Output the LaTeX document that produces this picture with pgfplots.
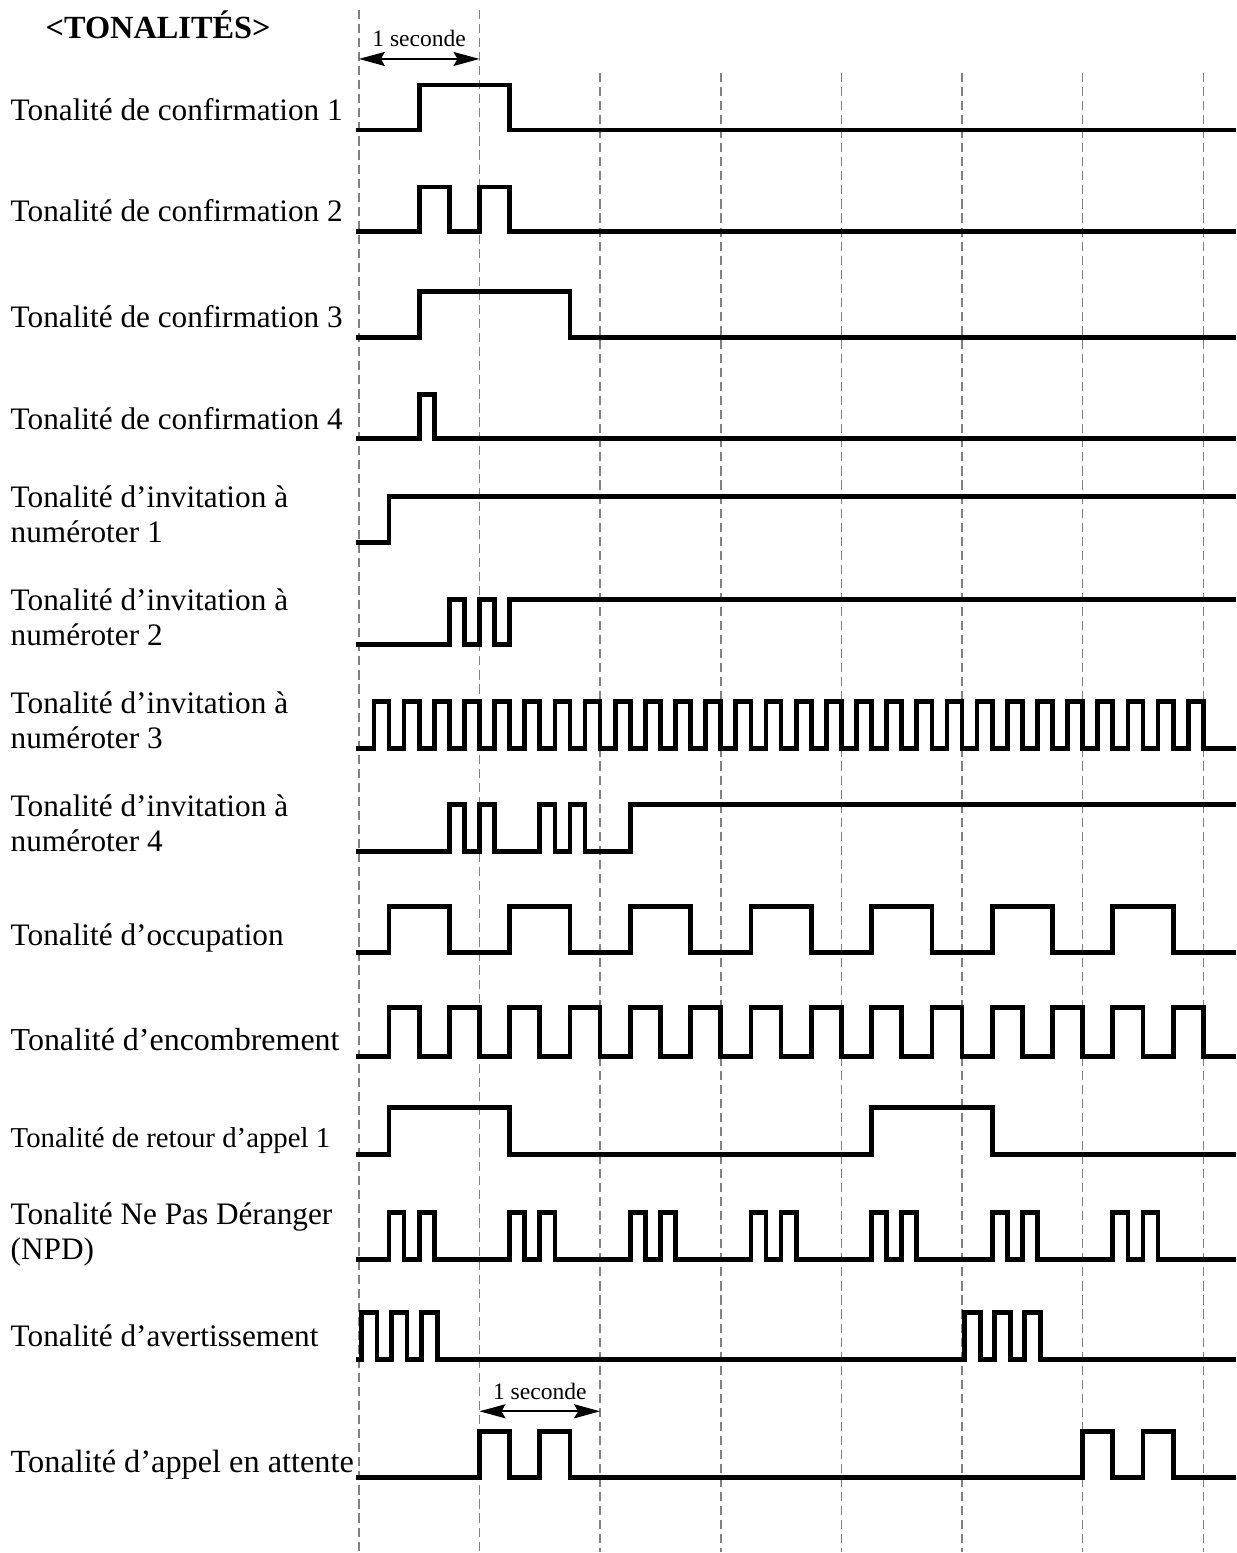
\documentclass[border=0pt]{standalone}
\usepackage{fontspec}
\setmainfont{Liberation Serif}
\usepackage{pgfplots}
\pgfplotsset{compat=1.18}
\usetikzlibrary{arrows.meta}
\begin{document}
\begin{tikzpicture}
\pgfmathsetmacro{\lx}{(10-359)/120.7}
\begin{axis}[
  scale only axis, width=12.37cm, height=15.53cm,
  xmin={-359/120.7}, xmax={(1237-359)/120.7},
  ymin=0, ymax=1553, y dir=reverse,
  hide axis, clip=false,
  wave/.style={black, line width=1.35pt, const plot, mark=none, line join=miter, line cap=rect},
  grid line/.style={gray, line width=0.45pt, dash pattern=on 2.6pt off 1.4pt},
]
% dashed second lines
\addplot[grid line] coordinates {(0,10)(0,1553)};
\addplot[grid line] coordinates {(1,10)(1,1553)};
\addplot[grid line] coordinates {(2,73)(2,1553)};
\addplot[grid line] coordinates {(3,73)(3,1553)};
\addplot[grid line] coordinates {(4,73)(4,1553)};
\addplot[grid line] coordinates {(5,73)(5,1553)};
\addplot[grid line] coordinates {(6,73)(6,1553)};
\addplot[grid line] coordinates {(7,73)(7,1553)};

% 1 Confirmation 1
\addplot[wave] coordinates {(0,130)(0.5,85)(1.25,130)(7.25,130)};
% 2 Confirmation 2
\addplot[wave] coordinates {(0,232)(0.5,187)(0.75,232)(1.0,187)(1.25,232)(7.25,232)};
% 3 Confirmation 3
\addplot[wave] coordinates {(0,338)(0.5,292)(1.75,338)(7.25,338)};
% 4 Confirmation 4
\addplot[wave] coordinates {(0,439)(0.5,395)(0.625,439)(7.25,439)};
% 5 Invitation 1
\addplot[wave] coordinates {(0,543)(0.25,497)(7.25,497)};
% 6 Invitation 2
\addplot[wave] coordinates {(0,645)(0.75,600)(0.875,645)(1.0,600)(1.125,645)(1.25,600)(7.25,600)};
% 7 Invitation 3
\addplot[wave] coordinates {(0,749)
 (0.125,702)(0.25,749)(0.375,702)(0.5,749)(0.625,702)(0.75,749)(0.875,702)(1.0,749)
 (1.125,702)(1.25,749)(1.375,702)(1.5,749)(1.625,702)(1.75,749)(1.875,702)(2.0,749)
 (2.125,702)(2.25,749)(2.375,702)(2.5,749)(2.625,702)(2.75,749)(2.875,702)(3.0,749)
 (3.125,702)(3.25,749)(3.375,702)(3.5,749)(3.625,702)(3.75,749)(3.875,702)(4.0,749)
 (4.125,702)(4.25,749)(4.375,702)(4.5,749)(4.625,702)(4.75,749)(4.875,702)(5.0,749)
 (5.125,702)(5.25,749)(5.375,702)(5.5,749)(5.625,702)(5.75,749)(5.875,702)(6.0,749)
 (6.125,702)(6.25,749)(6.375,702)(6.5,749)(6.625,702)(6.75,749)(6.875,702)(7.0,749)
 (7.25,749)};
% 8 Invitation 4
\addplot[wave] coordinates {(0,852)(0.75,805)(0.875,852)(1.0,805)(1.125,852)(1.5,805)(1.625,852)(1.75,805)(1.875,852)(2.25,805)(7.25,805)};
% 9 Occupation
\addplot[wave] coordinates {(0,953)(0.25,907)(0.75,953)(1.25,907)(1.75,953)(2.25,907)(2.75,953)(3.25,907)(3.75,953)(4.25,907)(4.75,953)(5.25,907)(5.75,953)(6.25,907)(6.75,953)(7.25,953)};
% 10 Encombrement
\addplot[wave] coordinates {(0,1057)
 (0.25,1008)(0.5,1057)(0.75,1008)(1.0,1057)(1.25,1008)(1.5,1057)(1.75,1008)(2.0,1057)
 (2.25,1008)(2.5,1057)(2.75,1008)(3.0,1057)(3.25,1008)(3.5,1057)(3.75,1008)(4.0,1057)
 (4.25,1008)(4.5,1057)(4.75,1008)(5.0,1057)(5.25,1008)(5.5,1057)(5.75,1008)(6.0,1057)
 (6.25,1008)(6.5,1057)(6.75,1008)(7.0,1057)(7.25,1057)};
% 11 Retour d'appel 1
\addplot[wave] coordinates {(0,1155)(0.25,1108)(1.25,1155)(4.25,1108)(5.25,1155)(7.25,1155)};
% 12 NPD
\addplot[wave] coordinates {(0,1260)
 (0.25,1213)(0.375,1260)(0.5,1213)(0.625,1260)
 (1.25,1213)(1.375,1260)(1.5,1213)(1.625,1260)
 (2.25,1213)(2.375,1260)(2.5,1213)(2.625,1260)
 (3.25,1213)(3.375,1260)(3.5,1213)(3.625,1260)
 (4.25,1213)(4.375,1260)(4.5,1213)(4.625,1260)
 (5.25,1213)(5.375,1260)(5.5,1213)(5.625,1260)
 (6.25,1213)(6.375,1260)(6.5,1213)(6.625,1260)
 (7.25,1260)};
% 13 Avertissement
\addplot[wave] coordinates {(0,1360)(0.02,1313)(0.15,1360)(0.27,1313)(0.40,1360)(0.52,1313)(0.65,1360)(5.02,1313)(5.15,1360)(5.27,1313)(5.40,1360)(5.52,1313)(5.65,1360)(7.25,1360)};
% 14 Appel en attente
\addplot[wave] coordinates {(0,1478)(1.0,1432)(1.25,1478)(1.5,1432)(1.75,1478)(6.0,1432)(6.25,1478)(6.5,1432)(6.75,1478)(7.25,1478)};

% 1 seconde arrows
\draw[line width=0.6pt, {Stealth[length=2.6mm,width=1.4mm,inset=0.4mm]}-{Stealth[length=2.6mm,width=1.4mm,inset=0.4mm]}] (axis cs:0,59) -- (axis cs:1,59);
\node[font=\fontsize{6.7}{8}\selectfont, anchor=base] at (axis cs:0.5,47) {1 seconde};
\draw[line width=0.6pt, {Stealth[length=2.6mm,width=1.4mm,inset=0.4mm]}-{Stealth[length=2.6mm,width=1.4mm,inset=0.4mm]}] (axis cs:1,1412) -- (axis cs:2,1412);
\node[font=\fontsize{6.7}{8}\selectfont, anchor=base] at (axis cs:1.5,1400) {1 seconde};

% title
\node[font=\fontsize{9.2}{10}\selectfont\bfseries, anchor=base west, inner sep=0pt] at (axis cs:{(45-359)/120.7},39) {<TONALITÉS>};

% labels
\begin{scope}[every node/.style={font=\fontsize{8.9}{10}\selectfont, anchor=base west, inner sep=0pt}]
\node at (axis cs:\lx,121) {Tonalité de confirmation 1};
\node at (axis cs:\lx,222) {Tonalité de confirmation 2};
\node at (axis cs:\lx,328) {Tonalité de confirmation 3};
\node at (axis cs:\lx,430) {Tonalité de confirmation 4};
\node at (axis cs:\lx,508) {Tonalité d’invitation à};
\node at (axis cs:\lx,543) {numéroter 1};
\node at (axis cs:\lx,611) {Tonalité d’invitation à};
\node at (axis cs:\lx,646) {numéroter 2};
\node at (axis cs:\lx,714) {Tonalité d’invitation à};
\node at (axis cs:\lx,749) {numéroter 3};
\node at (axis cs:\lx,817) {Tonalité d’invitation à};
\node at (axis cs:\lx,852) {numéroter 4};
\node at (axis cs:\lx,946) {Tonalité d’occupation};
\node[font=\fontsize{9.1}{10}\selectfont] at (axis cs:\lx,1051) {Tonalité d’encombrement};
\node[font=\fontsize{8.2}{10}\selectfont] at (axis cs:\lx,1148) {Tonalité de retour d’appel 1};
\node at (axis cs:\lx,1225) {Tonalité Ne Pas Déranger};
\node at (axis cs:\lx,1260) {(NPD)};
\node at (axis cs:\lx,1347) {Tonalité d’avertissement};
\node[font=\fontsize{9.2}{10}\selectfont] at (axis cs:\lx,1473) {Tonalité d’appel en attente};
\end{scope}
\end{axis}
\path (current axis.south west) rectangle (current axis.north east);
\end{tikzpicture}
\end{document}
